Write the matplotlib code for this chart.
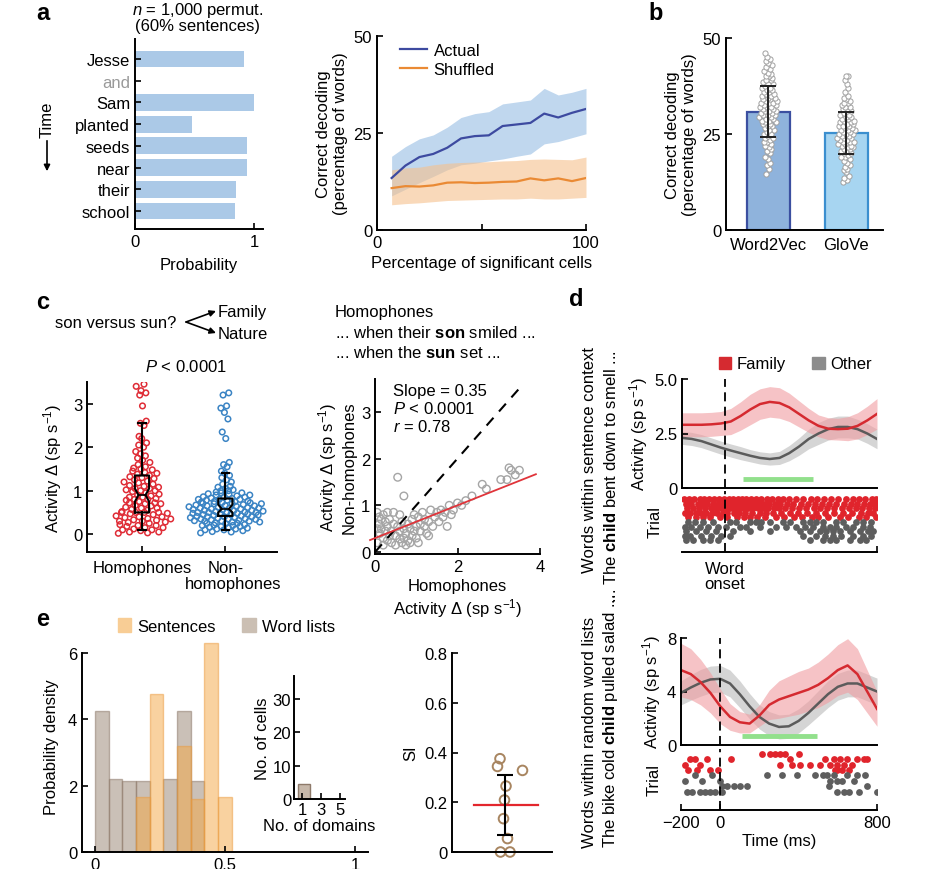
import numpy as np
import matplotlib
matplotlib.use('Agg')
import matplotlib.pyplot as plt
from matplotlib.patches import Patch
from matplotlib.lines import Line2D

plt.rcParams['font.family'] = ['Liberation Sans', 'DejaVu Sans']
plt.rcParams['mathtext.fontset'] = 'custom'
plt.rcParams['mathtext.rm'] = 'Liberation Sans'
plt.rcParams['mathtext.it'] = 'Liberation Sans:italic'
plt.rcParams['mathtext.bf'] = 'Liberation Sans:bold'
plt.rcParams['font.size'] = 12
plt.rcParams['axes.linewidth'] = 1.4

# ---------------- data ----------------
# a, left
words = ['Jesse', 'and', 'Sam', 'planted', 'seeds', 'near', 'their', 'school']
word_prob = [0.92, 0.0, 1.0, 0.48, 0.94, 0.94, 0.85, 0.84]

# a, right
pct_cells = [7, 13.6, 20.3, 26.9, 33.6, 40.2, 46.8, 53.5, 60.1, 66.8, 73.4, 80.0, 86.7, 93.3, 100]
actual = [13.4, 16.6, 18.8, 19.6, 21.2, 23.6, 24.2, 24.4, 26.8, 27.2, 27.6, 30.0, 29.0, 30.2, 31.2]
actual_hi = [19, 21.5, 23.5, 24.5, 26.5, 29, 30, 30.5, 32.5, 33, 33.5, 36.5, 34.8, 35.5, 36.5]
actual_lo = [8.8, 10.5, 12.2, 13.8, 15.5, 16.8, 17.2, 17.8, 18.3, 19, 19.6, 22.2, 22.8, 23.8, 24.8]
shuffled = [10.8, 11.3, 11.2, 11.5, 12.2, 12.3, 12.1, 12.2, 12.4, 12.5, 13.3, 12.8, 13.3, 12.6, 13.4]
shuffled_hi = [15.5, 16, 16.2, 16.8, 17.2, 17.4, 17.5, 17.6, 17.8, 17.9, 18.2, 18.3, 18.2, 18.1, 18.8]
shuffled_lo = [6.5, 6.8, 7.0, 7.3, 7.6, 7.7, 7.8, 7.9, 8.0, 8.0, 8.2, 8.0, 8.0, 8.2, 8.4]

# b
models = ['Word2Vec', 'GloVe']
model_mean = [30.8, 25.2]
model_sd = [6.6, 5.4]
w2v_runs = [14.5, 16, 17, 17.5, 18.5, 19, 20, 20.5, 21, 21.5, 22, 22.5, 23, 23, 23.5, 24, 24,
            24.5, 25, 25, 25.5, 26, 26, 26.5, 27, 27, 27.5, 27.5, 28, 28, 28.5, 28.5, 29, 29,
            29.5, 29.5, 30, 30, 30, 30.5, 30.5, 31, 31, 31, 31.5, 31.5, 32, 32, 32, 32.5, 32.5,
            33, 33, 33, 33.5, 33.5, 34, 34, 34.5, 34.5, 35, 35, 35.5, 35.5, 36, 36, 36.5, 36.5,
            37, 37, 37.5, 38, 38, 38.5, 39, 39, 39.5, 40, 40, 40.5, 41, 41.5, 42, 42.5, 43, 43.5,
            44, 44.5, 45, 46]
glove_runs = [12.5, 13, 13.5, 14, 15, 15.5, 16, 16.5, 17, 17.5, 18, 18.5, 19, 19, 19.5, 20, 20,
              20.5, 20.5, 21, 21, 21.5, 21.5, 22, 22, 22.5, 22.5, 23, 23, 23, 23.5, 23.5, 24, 24,
              24, 24.5, 24.5, 25, 25, 25, 25.5, 25.5, 26, 26, 26, 26.5, 26.5, 27, 27, 27, 27.5,
              27.5, 28, 28, 28.5, 28.5, 29, 29, 29.5, 29.5, 30, 30, 30.5, 31, 31, 31.5, 32, 32,
              32.5, 33, 33, 33.5, 34, 34.5, 35, 36, 37, 38, 39, 40, 40]

# c, left
homophones = [0.02, 0.03, 0.05, 0.05, 0.08, 0.1, 0.1, 0.12, 0.15, 0.15, 0.18, 0.2, 0.2, 0.22,
              0.25, 0.27, 0.28, 0.3, 0.3, 0.32, 0.33, 0.35, 0.36, 0.38, 0.4, 0.4, 0.42, 0.45,
              0.47, 0.48, 0.5, 0.5, 0.5, 0.5, 0.52, 0.55, 0.57, 0.6, 0.6, 0.62, 0.65, 0.66, 0.7,
              0.7, 0.72, 0.72, 0.75, 0.78, 0.8, 0.8, 0.82, 0.85, 0.85, 0.88, 0.9, 0.92, 0.95,
              0.98, 1.0, 1.0, 1.02, 1.05, 1.05, 1.08, 1.1, 1.12, 1.15, 1.18, 1.2, 1.22, 1.25,
              1.28, 1.3, 1.32, 1.35, 1.38, 1.4, 1.42, 1.45, 1.48, 1.5, 1.52, 1.55, 1.6, 1.65,
              1.7, 1.75, 1.8, 1.85, 1.9, 2.0, 2.05, 2.1, 2.2, 2.25, 2.5, 2.55, 2.6, 2.95, 3.2,
              3.25, 3.3, 3.4, 3.45]
non_homophones = [0.03, 0.05, 0.06, 0.08, 0.1, 0.1, 0.12, 0.12, 0.14, 0.15, 0.16, 0.18, 0.18,
                  0.2, 0.2, 0.21, 0.22, 0.24, 0.25, 0.25, 0.26, 0.28, 0.28, 0.3, 0.3, 0.3, 0.31,
                  0.32, 0.33, 0.34, 0.35, 0.35, 0.36, 0.37, 0.38, 0.38, 0.4, 0.4, 0.4, 0.41,
                  0.42, 0.43, 0.44, 0.45, 0.45, 0.46, 0.47, 0.48, 0.48, 0.5, 0.5, 0.5, 0.5,
                  0.51, 0.52, 0.53, 0.54, 0.55, 0.55, 0.56, 0.57, 0.58, 0.58, 0.6, 0.6, 0.6,
                  0.61, 0.62, 0.63, 0.64, 0.65, 0.65, 0.66, 0.67, 0.68, 0.7, 0.7, 0.7, 0.71,
                  0.72, 0.73, 0.74, 0.75, 0.75, 0.76, 0.78, 0.78, 0.8, 0.8, 0.8, 0.82, 0.83,
                  0.85, 0.85, 0.86, 0.88, 0.9, 0.9, 0.92, 0.93, 0.95, 0.95, 0.97, 1.0, 1.0,
                  1.02, 1.05, 1.08, 1.1, 1.15, 1.2, 1.25, 1.3, 1.35, 1.4, 1.45, 1.55, 1.6,
                  1.65, 2.2, 2.35, 2.65, 2.8, 2.9, 2.95, 3.2, 3.25]
# box stats: whislo, q1, med, q3, whishi, notch lo, notch hi
hom_box = [0.1, 0.5, 0.9, 1.35, 2.55, 0.75, 1.05]
non_box = [0.1, 0.42, 0.58, 0.82, 1.4, 0.5, 0.68]

# c, right (homophone delta, non-homophone delta)
pair_hom = [0.05, 0.1, 0.1, 0.15, 0.12, 0.2, 0.25, 0.2, 0.3, 0.3, 0.35, 0.4, 0.4, 0.45, 0.5,
            0.5, 0.55, 0.6, 0.6, 0.65, 0.65, 0.7, 0.7, 0.75, 0.8, 0.8, 0.85, 0.9, 0.9, 0.95,
            1.0, 1.0, 1.05, 1.1, 1.1, 1.15, 1.2, 1.2, 1.25, 1.3, 1.35, 1.4, 1.45, 1.5, 1.55,
            1.6, 1.65, 1.7, 1.75, 1.8, 1.85, 1.9, 2.0, 2.1, 2.2, 2.35, 2.6, 2.7, 3.05, 3.2, 3.3,
            3.4, 3.5, 3.25, 0.55, 0.7, 0.3, 0.15, 0.25, 0.05, 0.45, 0.6, 0.75, 0.85, 0.95, 1.05,
            1.3, 0.35, 0.05, 0.2]
pair_non = [0.85, 0.75, 0.6, 0.5, 0.4, 0.8, 0.65, 0.3, 0.55, 0.25, 0.7, 0.45, 0.2, 0.6, 0.35,
            0.15, 0.55, 0.28, 0.45, 0.2, 0.65, 0.5, 0.3, 0.4, 0.6, 0.25, 0.5, 0.35, 0.7, 0.45,
            0.55, 0.3, 0.75, 0.45, 0.6, 0.85, 0.55, 0.7, 0.4, 0.65, 0.9, 0.55, 0.75, 0.85, 0.65,
            0.9, 0.75, 0.85, 0.55, 1.0, 0.8, 0.9, 1.05, 1.0, 1.1, 1.2, 1.45, 1.35, 1.55, 1.55,
            1.75, 1.65, 1.75, 1.8, 1.6, 1.2, 0.85, 0.7, 0.45, 0.2, 0.85, 0.8, 0.15, 0.2, 0.8,
            0.2, 0.35, 0.35, 0.5, 0.15]
fit_slope, fit_icpt = 0.35, 0.3

# d, sentence context
t_sent = [-220, -170, -120, -70, -20, 30, 80, 130, 180, 230, 280, 330, 380, 430, 480, 530,
          580, 630, 680, 730, 780]
fam_sent = [2.9, 2.9, 2.9, 2.92, 2.96, 3.05, 3.3, 3.6, 3.85, 3.95, 3.9, 3.7, 3.4, 3.1, 2.85,
            2.72, 2.7, 2.72, 2.85, 3.1, 3.4]
fam_sent_err = [0.55, 0.55, 0.55, 0.55, 0.55, 0.6, 0.65, 0.7, 0.7, 0.7, 0.7, 0.65, 0.6, 0.55,
                0.5, 0.5, 0.5, 0.55, 0.6, 0.65, 0.7]
oth_sent = [2.3, 2.25, 2.15, 2.0, 1.85, 1.72, 1.6, 1.48, 1.38, 1.33, 1.38, 1.6, 1.9, 2.25, 2.5,
            2.7, 2.8, 2.8, 2.7, 2.5, 2.25]
oth_sent_err = [0.3, 0.3, 0.3, 0.3, 0.3, 0.3, 0.3, 0.28, 0.28, 0.28, 0.3, 0.35, 0.4, 0.45, 0.5,
                0.5, 0.5, 0.5, 0.45, 0.45, 0.45]
sig_sent = [93, 452]
spikes_sent_fam = [
    [-210, -185, -160, -130, -105, -80, -55, -30, -5, 20, 40, 65, 90, 110, 135, 160, 185, 215,
     240, 270, 300, 330, 365, 400, 440, 470, 510, 545, 580, 620, 655, 690, 720, 755, 775],
    [-200, -172, -140, -115, -90, -62, -35, -10, 15, 35, 58, 80, 100, 125, 150, 175, 200, 228,
     255, 285, 320, 350, 390, 425, 460, 500, 535, 570, 610, 645, 680, 715, 745, 770],
    [-195, -165, -135, -100, -70, -45, -20, 5, 28, 50, 72, 95, 120, 145, 170, 195, 220, 250, 275,
     310, 345, 380, 415, 455, 490, 525, 560, 600, 635, 670, 705, 740, 768],
    [-205, -178, -150, -120, -95, -65, -40, -12, 12, 45, 70, 105, 140, 180, 210, 245, 290, 335,
     375, 420, 465, 515, 560, 605, 650, 700, 735, 760],
    [-190, -150, -110, -75, -25, 10, 60, 100, 130, 165, 205, 260, 305, 355, 395, 445, 480, 530,
     590, 630, 690, 725, 775],
]
spikes_sent_oth = [
    [-189, -155, -112, -61, 24, 59, 127, 161, 187, 229, 298, 332, 400, 435, 469, 503, 571, 605,
     674, 708, 751],
    [-206, -172, -129, -87, -35, 7, 76, 110, 178, 264, 315, 366, 409, 452, 503, 537, 571, 623,
     657, 708, 742],
    [-198, -147, -95, -44, 41, 127, 229, 383, 435, 486, 520, 554, 588, 640, 691, 734, 759],
    [-206, -181, -121, -70, -18, 24, 400, 469, 511, 554, 597, 657, 708, 751],
    [-198, -164, -112, -78, -35, 435, 503, 537, 571, 640, 691, 725],
]

# d, random word lists
t_list = [-200, -150, -100, -50, 0, 50, 100, 150, 200, 250, 300, 350, 400, 450, 500, 550, 600,
          650, 700, 750, 800]
fam_list = [5.6, 5.3, 4.7, 3.9, 2.9, 2.1, 1.7, 1.6, 2.2, 3.0, 3.4, 3.65, 3.9, 4.15, 4.5, 5.0,
            5.6, 5.95, 5.3, 4.0, 2.7]
fam_list_err = [2.0, 1.9, 1.7, 1.5, 1.3, 1.0, 0.8, 0.7, 0.8, 1.1, 1.4, 1.5, 1.6, 1.6, 1.7, 1.8,
                1.9, 2.0, 1.9, 1.6, 1.3]
oth_list = [3.9, 4.3, 4.65, 4.9, 4.95, 4.6, 3.8, 2.9, 2.1, 1.6, 1.35, 1.4, 1.8, 2.4, 3.1, 3.8,
            4.35, 4.6, 4.6, 4.3, 4.0]
oth_list_err = [0.9, 0.95, 1.0, 1.0, 1.0, 1.0, 1.0, 0.95, 0.9, 0.9, 0.9, 0.9, 0.9, 0.9, 0.95,
                1.0, 1.0, 1.0, 1.0, 1.0, 1.0]
sig_list = [110, 493]
spikes_list_fam = [
    [212, 255, 280, 306, 332, 400],
    [-154, -128, -69, 54, 357, 536, 579, 613, 647, 698, 732, 749],
    [-180, -103, 306, 366, 409, 460, 510, 561, 596, 630, 672],
    [-162, -120, -52, -9, 587, 596, 621, 655],
]
spikes_list_oth = [
    [-128, -43, 238, 314, 391, 485, 527, 545, 579, 647, 698, 740],
    [-180, -95, 0, 561, 596, 621, 681],
    [8, 34, 68, 102, 136, 553, 749],
    [-171, -145, -103, -77, -52, -26, 8, 596, 630, 655, 706, 800],
]

# e
si_bin_left = [0, 0.0526, 0.1053, 0.1579, 0.2105, 0.2632, 0.3158, 0.3684, 0.4211, 0.4737]
dens_word_lists = [4.25, 2.2, 2.15, 2.15, 0, 2.2, 4.25, 2.15, 0, 0]
dens_sentences = [0, 0, 0, 1.65, 4.75, 0, 3.2, 1.6, 6.3, 1.65]
n_domains = [1, 3, 5]
n_cells = [4.5, 0, 0]
si_values = [0.375, 0.344, 0.328, 0.265, 0.209, 0.134, 0.054, 0.0, 0.0]
si_mean, si_sd = 0.19, 0.12

# ---------------- layout helpers ----------------
W, H = 937, 870
fig = plt.figure(figsize=(W / 100, H / 100), dpi=100)


def axpx(l, t, r, b):
    return fig.add_axes([l / W, 1 - b / H, (r - l) / W, (b - t) / H])


def ftext(x, y, s, **kw):
    return fig.text(x / W, 1 - y / H, s, **kw)


def clean(ax, direction='in'):
    ax.spines['top'].set_visible(False)
    ax.spines['right'].set_visible(False)
    ax.tick_params(direction=direction, length=4, width=1.2, labelsize=12)


def spread(vals, center, half):
    vals = np.asarray(vals, dtype=float)
    counts, edges = np.histogram(vals, bins=14)
    idx = np.clip(np.digitize(vals, edges) - 1, 0, len(counts) - 1)
    dens = counts[idx] / counts.max()
    phase = (np.arange(len(vals)) * 0.618034) % 1 - 0.5
    return center + 2 * phase * half * np.maximum(dens, 0.12)


def panel(x, y, s):
    ftext(x, y, s, fontsize=17, fontweight='bold', ha='left', va='center')


# ---------------- a, left ----------------
ax = axpx(135, 40, 263, 230)
clean(ax)
ypos = np.arange(len(words))
ax.barh(ypos, word_prob, height=0.78, color='#abc9e7')
ax.set_yticks(ypos)
ax.set_yticklabels(words)
ax.get_yticklabels()[1].set_color('#9a9a9a')
ax.set_ylim(7.83, -0.92)
ax.set_xlim(0, 1.076)
ax.set_xticks([0, 1])
ax.set_xticklabels(['0', '1'])
ax.set_xlabel('Probability', fontsize=12, labelpad=6)
ftext(198, 10, '$n$ = 1,000 permut.', ha='center', va='center')
ftext(198, 27, '(60% sentences)', ha='center', va='center')
ftext(47, 120, 'Time', rotation=90, ha='center', va='center')
ax.annotate('', xy=(47 / W, 1 - 175 / H), xytext=(47 / W, 1 - 139 / H),
            xycoords='figure fraction',
            arrowprops=dict(arrowstyle='-|>', color='k', lw=1.2, mutation_scale=9))
panel(36, 13, 'a')

# ---------------- a, right ----------------
ax = axpx(377, 37, 586, 231)
clean(ax)
ax.fill_between(pct_cells, actual_lo, actual_hi, color='#9ec2e6', alpha=0.65, lw=0)
ax.fill_between(pct_cells, shuffled_lo, shuffled_hi, color='#f6c18d', alpha=0.6, lw=0)
ax.plot(pct_cells, actual, color='#3d4aa0', lw=1.6)
ax.plot(pct_cells, shuffled, color='#ea8a34', lw=1.6)
ax.set_xlim(0, 100)
ax.set_ylim(0, 50)
ax.set_xticks([0, 50, 100])
ax.set_xticklabels(['0', '', '100'])
ax.set_yticks([0, 25, 50])
ax.set_xlabel('Percentage of significant cells', labelpad=4)
ax.set_ylabel('Correct decoding\n(percentage of words)', labelpad=4)
ax.legend(handles=[Line2D([], [], color='#3d4aa0', lw=1.6, label='Actual'),
                   Line2D([], [], color='#ea8a34', lw=1.6, label='Shuffled')],
          loc='upper left', bbox_to_anchor=(0.04, 1.04), frameon=False, fontsize=12,
          handlelength=1.6, handletextpad=0.4, labelspacing=0.2)

# ---------------- b ----------------
ax = axpx(726, 39, 883, 231)
clean(ax)
ax.bar([0, 1], model_mean, width=0.55, color=['#8fb3dc', '#a7d5f1'],
       edgecolor=['#3b4fa0', '#3b8fcf'], lw=1.6, zorder=1)
for i, runs in enumerate([w2v_runs, glove_runs]):
    ax.scatter(spread(runs, i, 0.12), runs, s=14, facecolor='white',
               edgecolor='#a0a0a0', lw=0.7, zorder=2)
ax.errorbar([0, 1], model_mean, yerr=model_sd, fmt='none', ecolor='#222222',
            elinewidth=1.4, capsize=6, capthick=1.4, zorder=3)
ax.set_xlim(-0.54, 1.47)
ax.set_ylim(0, 50)
ax.set_yticks([0, 25, 50])
ax.set_xticks([0, 1])
ax.set_xticklabels(models)
ax.tick_params(axis='x', length=0, pad=5)
ax.set_ylabel('Correct decoding\n(percentage of words)', labelpad=4)
panel(648, 13, 'b')

# ---------------- c, left ----------------
ax = axpx(87, 383, 277, 553)
clean(ax)
ax.scatter(spread(homophones, 0, 0.36), homophones, s=16, facecolor='none',
           edgecolor='#df2c36', lw=1.1, zorder=2)
ax.scatter(spread(non_homophones, 1, 0.46), non_homophones, s=16, facecolor='none',
           edgecolor='#3b84c4', lw=1.1, zorder=2)
stats = []
for b in [hom_box, non_box]:
    stats.append(dict(whislo=b[0], q1=b[1], med=b[2], q3=b[3], whishi=b[4],
                      cilo=b[5], cihi=b[6], fliers=[]))
ax.bxp(stats, positions=[0, 1], widths=0.17, shownotches=True, patch_artist=False,
       boxprops=dict(color='k', lw=1.5), whiskerprops=dict(color='k', lw=1.5),
       capprops=dict(color='k', lw=1.5), medianprops=dict(color='k', lw=1.2),
       manage_ticks=False, zorder=3)
ax.set_xlim(-0.66, 1.62)
ax.set_ylim(-0.41, 3.5)
ax.spines['left'].set_bounds(-0.41, 3.5)
ax.set_yticks([0, 1, 2, 3])
ax.set_xticks([0, 1])
ax.set_xticklabels(['Homophones', 'Non-'])
ax.tick_params(axis='x', pad=6)
ax.set_ylabel('Activity Δ (sp s$^{-1}$)', labelpad=6)
ftext(233, 585, 'homophones', ha='center', va='center')
ftext(186, 367, '$P$ < 0.0001', ha='center', va='center')
ftext(55, 323, 'son versus sun?', ha='left', va='center')
ftext(218, 312, 'Family', ha='left', va='center')
ftext(218, 335, 'Nature', ha='left', va='center')
for ty in [312, 334]:
    ax.annotate('', xy=(216 / W, 1 - ty / H), xytext=(186 / W, 1 - 323 / H),
                xycoords='figure fraction',
                arrowprops=dict(arrowstyle='-|>', color='k', lw=1.2, mutation_scale=9,
                                shrinkA=0, shrinkB=0))
panel(36, 303, 'c')

# ---------------- c, right ----------------
ax = axpx(375, 380, 540, 555)
clean(ax)
ax.scatter(pair_hom, pair_non, s=30, facecolor='none', edgecolor='#a5a5a5', lw=1.0, zorder=2)
ax.plot([0, 3.6], [0, 3.6], color='k', lw=1.5, ls=(0, (5, 4)), zorder=3)
fx = np.array([-0.12, 3.9])
ax.plot(fx, fit_icpt + fit_slope * fx, color='#e0343a', lw=1.3, zorder=3, clip_on=False)
ax.set_xlim(0, 4)
ax.set_ylim(-0.04, 3.7)
ax.set_xticks([0, 2, 4])
ax.set_yticks([0, 1, 2, 3])
ax.set_xlabel('Homophones\nActivity Δ (sp s$^{-1}$)', labelpad=3)
ax.set_ylabel('Activity Δ (sp s$^{-1}$)\nNon-homophones', labelpad=3)
ax.text(0.11, 0.975, 'Slope = 0.35\n$P$ < 0.0001\n$r$ = 0.78', transform=ax.transAxes,
        ha='left', va='top', linespacing=1.15)
ftext(335, 313, 'Homophones', ha='left', va='center')
ftext(335, 333, '... when their $\\bf{son}$ smiled ...', ha='left', va='center')
ftext(335, 353, '... when the $\\bf{sun}$ set ...', ha='left', va='center')

# ---------------- d ----------------
red, grey = '#d52a30', '#5b5b5b'


def activity(ax, t, fam, fam_err, oth, oth_err, sig, ylim, yt, ytl):
    fam, fam_err, oth, oth_err = map(np.asarray, (fam, fam_err, oth, oth_err))
    ax.fill_between(t, oth - oth_err, oth + oth_err, color='#b9b9b9', alpha=0.6, lw=0)
    ax.fill_between(t, fam - fam_err, fam + fam_err, color='#f09ca0', alpha=0.6, lw=0)
    ax.plot(t, oth, color=grey, lw=1.8)
    ax.plot(t, fam, color=red, lw=1.8)
    ax.plot(sig, [ylim[1] * 0.08] * 2, color='#92e08c', lw=3.5, solid_capstyle='butt')
    ax.axvline(0, color='k', lw=1.3, ls=(0, (5, 3)))
    ax.set_ylim(*ylim)
    ax.set_yticks(yt)
    ax.set_yticklabels(ytl)
    ax.set_xticks([])
    ax.set_ylabel('Activity (sp s$^{-1}$)', labelpad=3)


def raster(ax, fam_rows, oth_rows, ylim):
    for r, row in enumerate(fam_rows):
        ax.scatter(row, [r] * len(row), s=24, color='#e0242c', lw=0)
    n = len(fam_rows)
    for r, row in enumerate(oth_rows):
        ax.scatter(row, [n + r] * len(row), s=24, color='#5e5e5e', lw=0)
    ax.axvline(0, color='k', lw=1.3, ls=(0, (5, 3)))
    ax.set_ylim(*ylim)
    ax.spines['left'].set_visible(False)
    ax.set_yticks([])
    ax.set_ylabel('Trial', labelpad=14)


ax = axpx(682, 380, 877, 489)
clean(ax)
activity(ax, t_sent, fam_sent, fam_sent_err, oth_sent, oth_sent_err, sig_sent,
         (0, 5), [0, 2.5, 5], ['0', '2.5', '5.0'])
ax.set_xlim(-220, 780)
ax.legend(handles=[Patch(color=red, label='Family'), Patch(color='#8c8c8c', label='Other')],
          loc='center left', bbox_to_anchor=(704 / W, 1 - 365 / H),
          bbox_transform=fig.transFigure, ncol=2, frameon=False, fontsize=12,
          handlelength=0.75, handleheight=0.75, handletextpad=0.3, columnspacing=1.6)
ax = axpx(682, 492, 877, 553)
clean(ax)
raster(ax, spikes_sent_fam, spikes_sent_oth, (11.5, -1.74))
ax.set_xlim(-220, 780)
ax.set_xticks([780])
ax.set_xticklabels([''])
ftext(725, 577, 'Word\nonset', ha='center', va='center', linespacing=1.0)

ax = axpx(681, 639, 877, 746)
clean(ax)
activity(ax, t_list, fam_list, fam_list_err, oth_list, oth_list_err, sig_list,
         (0, 8), [0, 4, 8], ['0', '4', '8'])
ax.set_xlim(-200, 800)
ax = axpx(681, 750, 877, 811)
clean(ax)
raster(ax, spikes_list_fam, spikes_list_oth, (10.4, -0.9))
ax.set_xlim(-200, 800)
ax.set_xticks([-200, 0, 800])
ax.set_xlabel('Time (ms)', labelpad=2)

ftext(590, 573, 'Words within sentence context', rotation=90, ha='center', va='bottom')
ftext(611, 603, '... The $\\bf{child}$ bent down to smell ...', rotation=90,
      ha='center', va='bottom')
ftext(590, 848, 'Words within random word lists', rotation=90, ha='center', va='bottom')
ftext(611, 848, 'The bike cold $\\bf{child}$ pulled salad ...', rotation=90,
      ha='center', va='bottom')
panel(569, 300, 'd')

# ---------------- e, histogram ----------------
ax = axpx(82, 642, 368, 853)
clean(ax)
bw = si_bin_left[1] - si_bin_left[0]
wl = [(x, h) for x, h in zip(si_bin_left, dens_word_lists) if h > 0]
st = [(x, h) for x, h in zip(si_bin_left, dens_sentences) if h > 0]
ax.bar([x for x, _ in wl], [h for _, h in wl], width=bw, align='edge', color='#a08d7d',
       alpha=0.55, edgecolor='#8e7a6a', lw=1.0)
ax.bar([x for x, _ in st], [h for _, h in st], width=bw, align='edge', color='#f5a742',
       alpha=0.5, edgecolor='#eb9a3c', lw=1.0)
ax.set_xlim(-0.05, 1.05)
ax.set_ylim(0, 6.35)
ax.spines['left'].set_bounds(0, 6)
ax.set_yticks([0, 2, 4, 6])
ax.set_xticks([0, 0.5, 1])
ax.set_xticklabels(['0', '0.5', '1'])
ax.set_ylabel('Probability density', labelpad=6)
ax.legend(handles=[Patch(color='#f8cd95', label='Sentences'),
                   Patch(color='#cbbfb3', label='Word lists')],
          loc='center left', bbox_to_anchor=(103 / W, 1 - 627 / H),
          bbox_transform=fig.transFigure, ncol=2, frameon=False, fontsize=12,
          handlelength=0.8, handleheight=0.9, handletextpad=0.35, columnspacing=1.6)
panel(36, 619, 'e')

# inset
ax = axpx(294, 677, 345, 800)
clean(ax)
ax.bar(np.array(n_domains) + 0.18, n_cells, width=1.24, color='#c7b8aa',
       edgecolor='#8e7a6a', lw=1.0)
ax.set_xlim(0.12, 5.5)
ax.set_ylim(0, 36.8)
ax.set_yticks([0, 10, 20, 30])
ax.set_xticks(n_domains)
ax.tick_params(labelsize=12, pad=2)
ax.set_ylabel('No. of cells', labelpad=2)
ax.set_xlabel('No. of domains', labelpad=1)

# ---------------- e, SI ----------------
ax = axpx(452, 654, 552, 853)
clean(ax)
si_jitter = [-0.1, -0.15, 0.35, 0.02, -0.01, -0.03, 0.05, -0.09, 0.1]
ax.scatter(si_jitter, si_values, s=48, facecolor='none', edgecolor='#a88560', lw=1.4,
           zorder=2, clip_on=False)
ax.plot([-0.62, 0.67], [si_mean, si_mean], color='#e3262d', lw=1.6, zorder=3)
ax.errorbar([0], [si_mean], yerr=[si_sd], fmt='none', ecolor='k', elinewidth=1.5,
            capsize=6, capthick=1.5, zorder=4)
ax.set_xlim(-1.06, 0.94)
ax.set_ylim(0, 0.8)
ax.set_xticks([])
ax.set_yticks([0, 0.2, 0.4, 0.6, 0.8])
ax.set_yticklabels(['0', '0.2', '0.4', '0.6', '0.8'])
ax.set_ylabel('SI', labelpad=4)

fig.savefig('out.png', dpi=100)
